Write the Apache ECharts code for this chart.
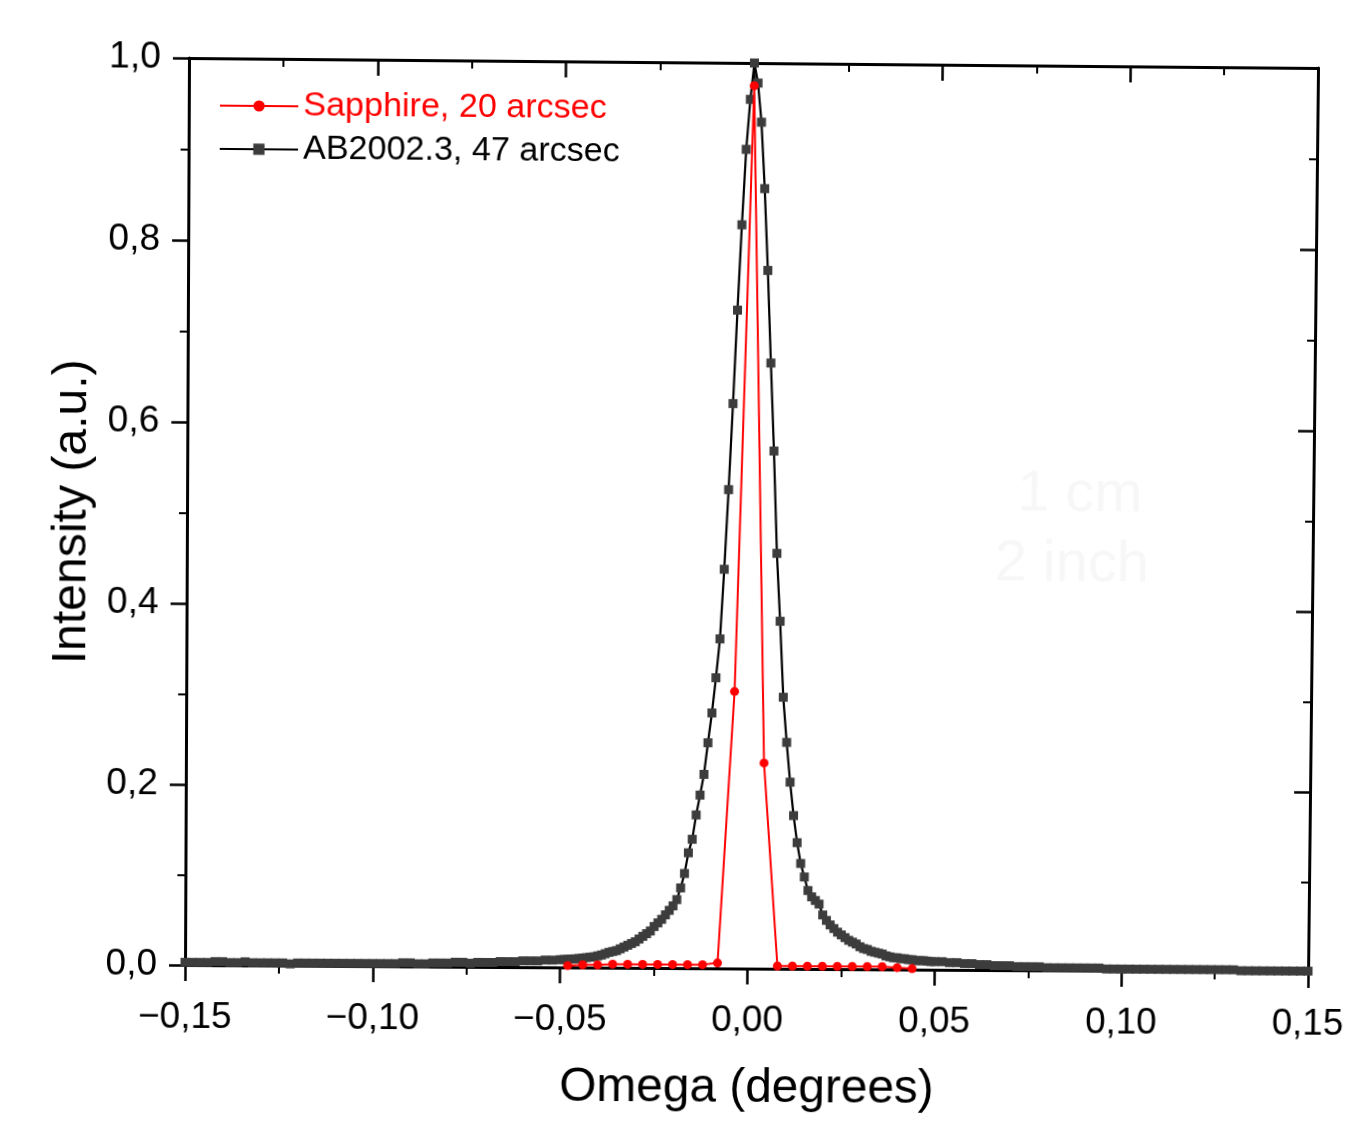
<!DOCTYPE html>
<html>
<head>
<meta charset="utf-8">
<script src="https://cdn.jsdelivr.net/npm/echarts@6/dist/echarts.min.js"></script>
<style>
html,body{margin:0;padding:0;background:#fff;overflow:hidden;}
#wrap{position:absolute;left:0;top:0;width:1367px;height:1134px;transform-origin:0 0;}
#chart{width:1367px;height:1134px;}
</style>
</head>
<body>
<div id="wrap"><div id="chart"></div></div>
<script>
// ---- data ----
const seriesNames = ['Sapphire, 20 arcsec', 'AB2002.3, 47 arcsec'];

const omegaRed = [-0.048,-0.044,-0.040,-0.036,-0.032,-0.028,-0.024,-0.020,-0.016,-0.012,-0.008,-0.004,
  0.000,0.004,0.008,0.012,0.016,0.020,0.024,0.028,0.032,0.036,0.040,0.044];
const intensityRed = [0.002,0.003,0.003,0.004,0.004,0.004,0.004,0.004,0.004,0.004,0.006,0.307,
  0.975,0.228,0.003,0.003,0.003,0.003,0.003,0.003,0.003,0.003,0.002,0.001];

const omegaBlackLeftTail = [-0.150,-0.148,-0.146,-0.144,-0.142,-0.140,-0.138,-0.136,-0.134,-0.132,
  -0.130,-0.128,-0.126,-0.124,-0.122,-0.120,-0.118,-0.116,-0.114,-0.112,
  -0.110,-0.108,-0.106,-0.104,-0.102,-0.100,-0.098,-0.096,-0.094,-0.092,
  -0.090,-0.088,-0.086,-0.084,-0.082,-0.080,-0.078,-0.076,-0.074,-0.072,
  -0.070,-0.068,-0.066,-0.064,-0.062,-0.060,-0.058,-0.056,-0.054,-0.052];
const intensityBlackLeftTail = [0.003,0.003,0.003,0.003,0.004,0.004,0.003,0.003,0.004,0.003,
  0.003,0.003,0.003,0.003,0.002,0.003,0.003,0.003,0.003,0.003,
  0.003,0.003,0.003,0.003,0.003,0.003,0.003,0.003,0.003,0.004,
  0.004,0.003,0.003,0.004,0.004,0.004,0.005,0.005,0.004,0.005,
  0.005,0.005,0.006,0.006,0.006,0.007,0.007,0.007,0.008,0.008];

const omegaBlackCore = [-0.050,-0.049,-0.048,-0.047,-0.046,-0.045,-0.044,-0.043,-0.042,-0.041,
  -0.040,-0.039,-0.038,-0.037,-0.036,-0.035,-0.034,-0.033,-0.032,-0.031,
  -0.030,-0.029,-0.028,-0.027,-0.026,-0.025,-0.024,-0.023,-0.022,-0.021,
  -0.020,-0.019,-0.018,-0.017,-0.016,-0.015,-0.014,-0.013,-0.012,-0.011,
  -0.010,-0.009,-0.008,-0.007,-0.006,-0.005,-0.004,-0.003,-0.002,-0.001,
  0.000,0.001,0.002,0.003,0.004,0.005,0.006,0.007,0.008,0.009,
  0.010,0.011,0.012,0.013,0.014,0.015,0.016,0.017,0.018,0.019,
  0.020,0.021,0.022,0.023,0.024,0.025,0.026,0.027,0.028,0.029,
  0.030,0.031,0.032,0.033,0.034,0.035,0.036,0.037,0.038,0.039,
  0.040,0.041,0.042,0.043,0.044,0.045,0.046,0.047,0.048,0.049,0.050];
const intensityBlackCore = [0.0085,0.0088,0.009,0.0093,0.0096,0.010,0.0105,0.011,0.0115,0.012,
  0.013,0.014,0.0155,0.017,0.018,0.019,0.021,0.023,0.025,0.027,
  0.029,0.032,0.035,0.038,0.041,0.046,0.050,0.054,0.059,0.064,
  0.069,0.076,0.089,0.105,0.128,0.143,0.170,0.192,0.215,0.250,
  0.283,0.322,0.365,0.442,0.530,0.625,0.728,0.822,0.905,0.960,
  1.000,0.978,0.935,0.862,0.772,0.670,0.573,0.460,0.385,0.301,
  0.251,0.207,0.170,0.140,0.117,0.102,0.087,0.080,0.076,0.072,
  0.060,0.054,0.049,0.045,0.041,0.038,0.035,0.032,0.030,0.028,
  0.025,0.023,0.022,0.020,0.019,0.018,0.017,0.015,0.014,0.013,
  0.013,0.012,0.012,0.011,0.011,0.010,0.010,0.010,0.0095,0.009,0.009];

const omegaBlackRightTail = [0.052,0.054,0.056,0.058,0.060,0.062,0.064,0.066,0.068,0.070,
  0.072,0.074,0.076,0.078,0.080,0.082,0.084,0.086,0.088,0.090,
  0.092,0.094,0.096,0.098,0.100,0.102,0.104,0.106,0.108,0.110,
  0.112,0.114,0.116,0.118,0.120,0.122,0.124,0.126,0.128,0.130,
  0.132,0.134,0.136,0.138,0.140,0.142,0.144,0.146,0.148,0.150];
const intensityBlackRightTail = [0.009,0.008,0.008,0.007,0.007,0.006,0.006,0.005,0.005,0.005,
  0.004,0.004,0.004,0.004,0.003,0.003,0.003,0.003,0.003,0.003,
  0.003,0.003,0.002,0.002,0.002,0.002,0.002,0.002,0.002,0.002,
  0.002,0.002,0.002,0.002,0.002,0.002,0.002,0.002,0.002,0.002,
  0.001,0.001,0.001,0.001,0.001,0.001,0.001,0.001,0.001,0.001];

const xTickLabels = ['\u22120,15','\u22120,10','\u22120,05','0,00','0,05','0,10','0,15'];
const yTickLabels = ['0,0','0,2','0,4','0,6','0,8','1,0'];

// ---- build ----
function zip(xs, ys){ return xs.map((x,i)=>[x, ys[i]]); }
const blackData = zip(omegaBlackLeftTail, intensityBlackLeftTail)
  .concat(zip(omegaBlackCore, intensityBlackCore))
  .concat(zip(omegaBlackRightTail, intensityBlackRightTail));
const redData = zip(omegaRed, intensityRed);

const FONT = '"Liberation Sans", Arial, sans-serif';
const GRID = {left:186, top:63, right:54, bottom:166};

function xLabel(v){ const i = Math.round((v + 0.15) / 0.05); return xTickLabels[i] !== undefined ? xTickLabels[i] : ''; }
function yLabel(v){ const i = Math.round(v / 0.2); return yTickLabels[i] !== undefined ? yTickLabels[i] : ''; }

const axisLineStyle = {color:'#000', width:3};
const tickStyle = {color:'#000', width:2.5};
const minorStyle = {color:'#000', width:2};

const chart = echarts.init(document.getElementById('chart'), null, {renderer:'canvas'});
chart.setOption({
  animation:false,
  backgroundColor:'#ffffff',
  grid: GRID,
  legend:{
    orient:'vertical', left:211, top:88, itemGap:9,
    itemWidth:78, itemHeight:14,
    textStyle:{fontFamily:FONT, fontSize:34, color:'#000'},
    data:[
      {name:seriesNames[0], textStyle:{color:'#ff0000'}},
      {name:seriesNames[1], textStyle:{color:'#000'}}
    ]
  },
  xAxis:[
    {type:'value', position:'bottom', min:-0.15, max:0.15, interval:0.05,
     name:'Omega (degrees)', nameLocation:'middle', nameGap:97,
     nameTextStyle:{fontFamily:FONT, fontSize:48, color:'#000'},
     axisLine:{show:true, onZero:false, lineStyle:axisLineStyle},
     axisTick:{show:true, inside:false, length:16, lineStyle:tickStyle},
     minorTick:{show:true, splitNumber:2, length:8, lineStyle:minorStyle},
     axisLabel:{show:true, formatter:xLabel, fontFamily:FONT, fontSize:37, color:'#000', margin:34},
     splitLine:{show:false}, minorSplitLine:{show:false}},
    {type:'value', position:'top', min:-0.15, max:0.15, interval:0.05,
     axisLine:{show:true, onZero:false, lineStyle:axisLineStyle},
     axisTick:{show:true, inside:true, length:16, lineStyle:tickStyle},
     minorTick:{show:true, splitNumber:2, length:8, lineStyle:minorStyle},
     axisLabel:{show:false}, splitLine:{show:false}}
  ],
  yAxis:[
    {type:'value', position:'left', min:0, max:1, interval:0.2,
     name:'Intensity (a.u.)', nameLocation:'middle', nameGap:90, nameRotate:90,
     nameTextStyle:{fontFamily:FONT, fontSize:48, color:'#000'},
     axisLine:{show:true, onZero:false, lineStyle:axisLineStyle},
     axisTick:{show:true, inside:false, length:16, lineStyle:tickStyle},
     minorTick:{show:true, splitNumber:2, length:8, lineStyle:minorStyle},
     axisLabel:{show:true, formatter:yLabel, fontFamily:FONT, fontSize:37, color:'#000', margin:28},
     splitLine:{show:false}},
    {type:'value', position:'right', min:0, max:1, interval:0.2,
     axisLine:{show:true, onZero:false, lineStyle:axisLineStyle},
     axisTick:{show:true, inside:true, length:16, lineStyle:tickStyle},
     minorTick:{show:true, splitNumber:2, length:8, lineStyle:minorStyle},
     axisLabel:{show:false}, splitLine:{show:false}}
  ],
  graphic:[
    {type:'text', left:1016, top:462, z:0, style:{text:'1 cm', font:'58px ' + FONT, fill:'#f7f7f7'}},
    {type:'text', left:994, top:532, z:0, style:{text:'2 inch', font:'58px ' + FONT, fill:'#f7f7f7'}}
  ],
  series:[
    {name:seriesNames[0], type:'line', xAxisIndex:0, yAxisIndex:0, data:redData, z:4,
     symbol:'circle', symbolSize:9, showAllSymbol:true,
     lineStyle:{color:'#ff0000', width:2}, itemStyle:{color:'#ff0000'}},
    {name:seriesNames[1], type:'line', xAxisIndex:0, yAxisIndex:0, data:blackData, z:3,
     symbol:'rect', symbolSize:9, showAllSymbol:true,
     lineStyle:{color:'#000', width:2.2}, itemStyle:{color:'#3c3c3c'}}
  ]
});

// slight rotation/perspective of the photographed figure: map the plot frame to the observed quad
(function(){
  const W0 = 1367, H0 = 1134;
  const gx0 = GRID.left, gy0 = GRID.top, gx1 = W0 - GRID.right, gy1 = H0 - GRID.bottom;
  const q = [[189,58],[1318,68],[1308,972],[185,965]]; // TL, TR, BR, BL
  const [x0,y0] = q[0], [x1,y1] = q[1], [x2,y2] = q[2], [x3,y3] = q[3];
  const dx1 = x1-x2, dx2 = x3-x2, dx3 = x0-x1+x2-x3;
  const dy1 = y1-y2, dy2 = y3-y2, dy3 = y0-y1+y2-y3;
  const den = dx1*dy2 - dx2*dy1;
  const g = (dx3*dy2 - dx2*dy3)/den, h = (dx1*dy3 - dx3*dy1)/den;
  const a = x1-x0+g*x1, b = x3-x0+h*x3, c = x0;
  const d = y1-y0+g*y1, e = y3-y0+h*y3, f = y0;
  const W = gx1-gx0, H = gy1-gy0;
  let A = a/W, B = b/H, C = c - a*gx0/W - b*gy0/H;
  let D = d/W, E = e/H, F = f - d*gx0/W - e*gy0/H;
  let G = g/W, HH = h/H, I = 1 - g*gx0/W - h*gy0/H;
  A/=I; B/=I; C/=I; D/=I; E/=I; F/=I; G/=I; HH/=I; I = 1;
  document.getElementById('wrap').style.transform =
    'matrix3d(' + [A,D,0,G, B,E,0,HH, 0,0,1,0, C,F,0,I].join(',') + ')';
})();
</script>
</body>
</html>
